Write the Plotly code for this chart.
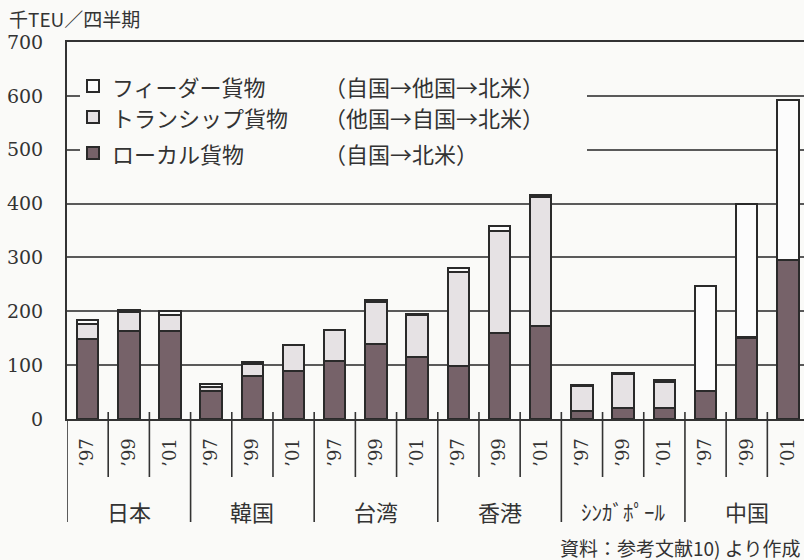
import plotly.graph_objects as go

# ---- data ----
countries = ["日本", "韓国", "台湾", "香港", "ｼﾝｶﾞﾎﾟｰﾙ", "中国"]
years = ["’97", "’99", "’01"]
local = [148, 163, 163, 52, 80, 90, 108, 140, 116, 99, 160, 172, 15, 20, 20, 52, 150, 295]
trans = [28, 35, 30, 8, 22, 47, 57, 78, 78, 174, 190, 240, 47, 63, 48, 0, 2, 0]
feeder = [7, 4, 7, 5, 4, 1, 1, 3, 1, 7, 8, 3, 2, 3, 5, 195, 248, 297]
series_names = ["ローカル貨物", "トランシップ貨物", "フィーダー貨物"]
series_routes = ["（自国→北米）", "（他国→自国→北米）", "（自国→他国→北米）"]
y_ticks = [0, 100, 200, 300, 400, 500, 600, 700]
y_title = "千TEU／四半期"
source = "資料：参考文献10) より作成"

# ---- layout constants ----
W, H = 804, 560
L, R, T, B = 67, 0, 42, 141
PW, PH = W - L - R, H - T - B
X0 = T + PH  # pixel y of axis bottom


def xp(px):
    return (px - L) / PW


def yp(py):
    return (X0 - py) / PH


n = len(local)
xs = list(range(n))
ticktext = [years[i % 3] for i in range(n)]

C_LOCAL = "#766269"
C_TRANS = "#e6e2e4"
C_FEED = "#fcfcfc"
C_EDGE = "#2a2a2a"
C_GRID = "#5a5a5a"
C_TEXT = "#333333"
SERIF = "DejaVu Serif, Noto Sans CJK JP"
JP = "Noto Sans CJK JP"

fig = go.Figure()
for vals, col, name in [(local, C_LOCAL, series_names[0]),
                        (trans, C_TRANS, series_names[1]),
                        (feeder, C_FEED, series_names[2])]:
    fig.add_trace(go.Bar(x=xs, y=vals, name=name, width=0.52,
                         marker=dict(color=col, line=dict(color=C_EDGE, width=2)),
                         showlegend=False, hoverinfo="skip"))

shapes = []
# separators below axis
for k in range(n):
    bx = k + 0.5
    if bx > 17:
        continue
    country_sep = (k % 3 == 2)
    shapes.append(dict(type="line", xref="x", yref="paper", x0=bx, x1=bx,
                       y0=yp(X0 - 7), y1=yp(522 if country_sep else 477),
                       line=dict(color=C_TEXT, width=1.6)))
shapes.append(dict(type="line", xref="x", yref="paper", x0=-0.5, x1=-0.5,
                   y0=0, y1=yp(522), line=dict(color=C_TEXT, width=1.6)))

# legend box
shapes.append(dict(type="rect", xref="paper", yref="paper", layer="above",
                   x0=xp(80), x1=xp(587), y0=yp(172), y1=yp(62),
                   fillcolor="#fafaf8", line=dict(width=0)))
leg_rows_y = [153, 117, 86]  # local, trans, feeder
leg_cols = [C_LOCAL, C_TRANS, C_FEED]
annotations = []
for i in range(3):
    cy = leg_rows_y[i]
    shapes.append(dict(type="rect", xref="paper", yref="paper", layer="above",
                       x0=xp(87), x1=xp(99), y0=yp(cy + 6), y1=yp(cy - 6),
                       fillcolor=leg_cols[i], line=dict(color=C_EDGE, width=2)))
    annotations.append(dict(xref="paper", yref="paper", x=xp(110), y=yp(cy),
                            xanchor="left", yanchor="middle", showarrow=False,
                            text=series_names[i],
                            font=dict(family=JP, size=22, color=C_TEXT)))
    annotations.append(dict(xref="paper", yref="paper", x=xp(322), y=yp(cy),
                            xanchor="left", yanchor="middle", showarrow=False,
                            text=series_routes[i],
                            font=dict(family=JP, size=22, color=C_TEXT)))

# country labels
for c, name in enumerate(countries):
    annotations.append(dict(xref="x", yref="paper", x=3 * c + 1, y=yp(511),
                            xanchor="center", yanchor="middle", showarrow=False,
                            text=name,
                            font=dict(family=JP, size=21 if c == 4 else 22, color=C_TEXT)))

# y title
annotations.append(dict(xref="paper", yref="paper", x=xp(7), y=yp(19),
                        xanchor="left", yanchor="middle", showarrow=False,
                        text=y_title, font=dict(family=JP, size=19, color=C_TEXT)))
# source
annotations.append(dict(xref="paper", yref="paper", x=xp(558), y=yp(547),
                        xanchor="left", yanchor="middle", showarrow=False,
                        text=source, font=dict(family=JP, size=19, color=C_TEXT)))

fig.update_layout(
    width=W, height=H,
    margin=dict(l=L, r=R, t=T, b=B, pad=0, autoexpand=False),
    barmode="stack",
    paper_bgcolor="#fafaf8", plot_bgcolor="#fafaf8",
    shapes=shapes, annotations=annotations,
    hovermode=False,
    xaxis=dict(range=[-0.5, 17.39], tickmode="array", tickvals=xs, ticktext=ticktext,
               tickangle=-90, ticks="", showgrid=False, zeroline=False,
               showline=True, mirror=True, linecolor=C_TEXT, linewidth=2,
               tickfont=dict(family=SERIF, size=18, color=C_TEXT),
               ticklabelstandoff=10, automargin=False),
    yaxis=dict(range=[0, 700], tickmode="array", tickvals=y_ticks,
               ticks="", showgrid=True, gridcolor=C_GRID, gridwidth=1.5,
               zeroline=False, showline=True, linecolor=C_TEXT, linewidth=2,
               tickfont=dict(family=SERIF, size=19, color=C_TEXT),
               ticklabelstandoff=18, automargin=False),
)

fig.write_html("out.html", config={"displayModeBar": False},
               post_script="document.body.style.margin='0';document.body.style.padding='0';"
                           "document.body.style.overflow='hidden';")
